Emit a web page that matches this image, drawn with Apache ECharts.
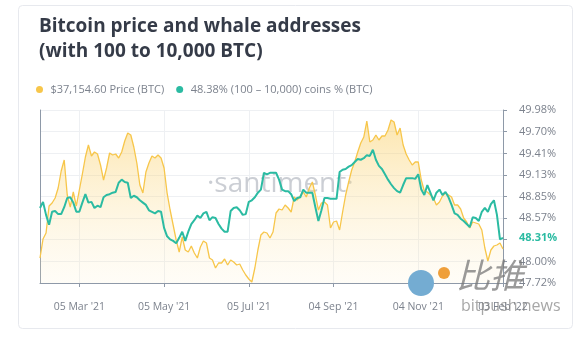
<!DOCTYPE html>
<html>
<head>
<meta charset="utf-8">
<style>
html,body{margin:0;padding:0;background:#fff;}
#chart{width:585px;height:337px;}
</style>
<script src="https://cdn.jsdelivr.net/npm/echarts@6/dist/echarts.min.js"></script>
</head>
<body>
<div id="chart"></div>
<script>
// BTC price (USD), evenly spaced samples
const price = [
35000,39560,41000,47480,48200,49400,51800,55880,58520,50120,
47240,50840,47480,51320,55160,59240,62120,59480,60440,59960,
57320,53720,56600,60200,59720,59960,59000,60440,63080,65000,
64520,61640,57800,52520,50600,55640,57800,59480,59000,59720,
59000,56600,50600,46520,42920,39320,36440,40040,36920,36440,
37880,36200,35000,37640,39080,38600,35000,34520,32600,33800,
33800,34760,33320,34520,34040,33320,33560,32120,30920,29960,
29240,32600,36920,40520,41240,41000,39800,41240,45800,46760,
46520,47720,47000,46040,49640,48920,49880,50840,49640,51800,
53240,50120,46520,48200,48440,47720,42200,43640,43880,41720,
46040,50120,53240,56120,58040,60440,62600,64040,67880,62840,
63320,64520,63320,64280,64280,65720,68120,67640,64520,66200,
62120,59960,58520,57320,58040,58040,53720,51080,50840,50120,
49400,47720,48440,49880,50600,50120,49640,47720,47720,46760,
44600,43640,42200,43640,43400,43160,41720,37400,34280,36920,
37880,38120,38600,37155
];
// Supply held by addresses with 100 - 10,000 BTC (%)
const whalePct = [
48.70,48.78,48.61,48.48,48.65,48.66,48.62,48.62,48.71,48.83,
48.84,48.77,48.65,48.65,48.77,48.88,48.77,48.78,48.70,48.73,
48.71,48.84,48.87,48.88,48.90,48.91,49.03,49.07,49.04,49.03,
48.83,48.86,48.84,48.80,48.77,48.74,48.67,48.65,48.63,48.66,
48.65,48.44,48.33,48.29,48.27,48.24,48.31,48.39,48.27,48.39,
48.49,48.54,48.60,48.57,48.63,48.65,48.54,48.58,48.57,48.49,
48.43,48.39,48.39,48.66,48.70,48.71,48.67,48.61,48.62,48.78,
48.80,48.84,48.90,48.94,49.16,49.14,49.16,49.16,49.16,49.07,
48.94,48.92,48.92,48.88,48.79,48.83,48.84,48.94,48.90,48.90,
48.90,48.71,48.53,48.67,48.83,48.83,48.82,48.82,48.82,49.17,
49.20,49.21,49.24,49.26,49.30,49.34,49.33,49.35,49.39,49.38,
49.46,49.33,49.25,49.21,49.14,49.07,49.01,48.96,48.92,48.90,
49.00,49.09,49.09,49.09,49.08,49.14,48.94,48.87,49.00,48.90,
48.80,48.90,48.94,48.87,48.91,48.84,48.74,48.63,48.61,48.56,
48.53,48.49,48.45,48.58,48.57,48.53,48.65,48.70,48.65,48.75,
48.80,48.61,48.29,48.31
];
const xTickIndex = [13, 41, 69, 97, 125, 153];
const xTickLabels = ["05 Mar '21", "05 May '21", "05 Jul '21", "04 Sep '21", "04 Nov '21", "03 Feb '22"];
const yTickValues = [47.72, 48.00, 48.29, 48.57, 48.85, 49.13, 49.41, 49.70, 49.98];
const yLabelValues = [47.72, 48.00, 48.31, 48.57, 48.85, 49.13, 49.41, 49.70, 49.98];
const currentPct = 48.31;
const legendNames = ["$37,154.60 Price (BTC)", "48.38% (100 \u2013 10,000) coins % (BTC)"];

const categories = price.map((_, i) => String(i));
const yellow = '#f7c64a';
const teal = '#2bbba2';
const axisGray = '#8e99a8';
const font = '"Open Sans", "Noto Sans", sans-serif';

const chart = echarts.init(document.getElementById('chart'), null, {renderer: 'canvas'});
const isTick = (i) => xTickIndex.indexOf(i) >= 0;

chart.setOption({
  animation: false,
  backgroundColor: '#fff',
  title: {
    text: 'Bitcoin price and whale addresses\n(with 100 to 10,000 BTC)',
    left: 34, top: 9,
    textStyle: {fontFamily: font, fontSize: 19, fontWeight: 'bold', color: '#353b48', lineHeight: 25}
  },
  legend: {
    data: legendNames,
    left: 31, top: 79,
    icon: 'circle', itemWidth: 12, itemHeight: 7, itemGap: 12,
    textStyle: {fontFamily: font, fontSize: 11, color: '#7c828d'}
  },
  grid: {left: 40, right: 82, top: 110, bottom: 54},
  xAxis: {
    type: 'category', data: categories, boundaryGap: false,
    axisLine: {show: true, lineStyle: {color: axisGray, width: 1}},
    axisTick: {show: true, length: 4, interval: (i) => isTick(i), lineStyle: {color: axisGray}},
    axisLabel: {
      interval: (i) => isTick(i), margin: 19,
      formatter: (v, i) => { const k = xTickIndex.indexOf(i); return k >= 0 ? xTickLabels[k] : ''; },
      fontFamily: font, fontSize: 10.5, color: '#7c828d'
    },
    splitLine: {show: true, interval: (i) => isTick(i), lineStyle: {color: '#eef0f3'}}
  },
  yAxis: [
    {
      type: 'value', min: 29000, max: 70520, position: 'left',
      axisLine: {show: true, lineStyle: {color: axisGray}},
      axisTick: {show: false}, axisLabel: {show: false}, splitLine: {show: false}
    },
    {
      type: 'value', min: 47.72, max: 49.98, position: 'right',
      axisLine: {show: true, lineStyle: {color: axisGray}},
      axisTick: {show: true, length: 4, customValues: yTickValues, lineStyle: {color: axisGray}},
      axisLabel: {
        customValues: yLabelValues, margin: 16,
        fontFamily: font, fontSize: 11, color: '#7c828d',
        formatter: (v) => {
          const s = v.toFixed(2) + '%';
          return Math.abs(v - currentPct) < 0.001 ? '{cur|' + s + '}' : s;
        },
        rich: {cur: {color: teal, fontWeight: 'bold', fontFamily: font, fontSize: 11}}
      },
      splitLine: {show: true, lineStyle: {color: '#eef0f3'}}
    }
  ],
  series: [
    {
      name: legendNames[0], type: 'line', data: price, yAxisIndex: 0,
      showSymbol: false, symbol: 'none', z: 2,
      itemStyle: {color: yellow},
      lineStyle: {color: yellow, width: 1.3},
      areaStyle: {
        color: new echarts.graphic.LinearGradient(0, 0, 0, 1, [
          {offset: 0, color: 'rgba(249,200,80,0.65)'},
          {offset: 1, color: 'rgba(253,235,190,0.18)'}
        ])
      }
    },
    {
      name: legendNames[1], type: 'line', data: whalePct, yAxisIndex: 1,
      showSymbol: false, symbol: 'none', z: 3,
      itemStyle: {color: teal},
      lineStyle: {color: teal, width: 2}
    }
  ],
  graphic: [
    {type: 'rect', left: 18, top: 5, z: -10, silent: true,
     shape: {width: 554, height: 323, r: 4},
     style: {fill: 'transparent', stroke: '#e7e9ee', lineWidth: 1}},
    {type: 'text', left: 207, top: 170, z: 1, silent: true,
     style: {text: '\u00b7santiment\u00b7', font: '28px "Open Sans", sans-serif', fill: 'rgba(160,166,176,0.55)'}},
    {type: 'circle', shape: {cx: 421, cy: 283, r: 13}, z: 10, silent: true, style: {fill: '#74acd2'}},
    {type: 'circle', shape: {cx: 444, cy: 273, r: 6}, z: 10, silent: true, style: {fill: '#ef9f3a'}},
    {type: 'text', left: 456, top: 258, z: 10, silent: true,
     style: {text: '\u6bd4\u63a8', font: 'italic 34px "Noto Sans CJK SC", sans-serif', fill: 'rgba(120,120,120,0.75)'}},
    {type: 'text', left: 461, top: 298, z: 10, silent: true,
     style: {text: 'bitpush.news', font: '16px "Open Sans", sans-serif', fill: 'rgba(130,130,130,0.7)'}}
  ]
});
</script>
</body>
</html>
